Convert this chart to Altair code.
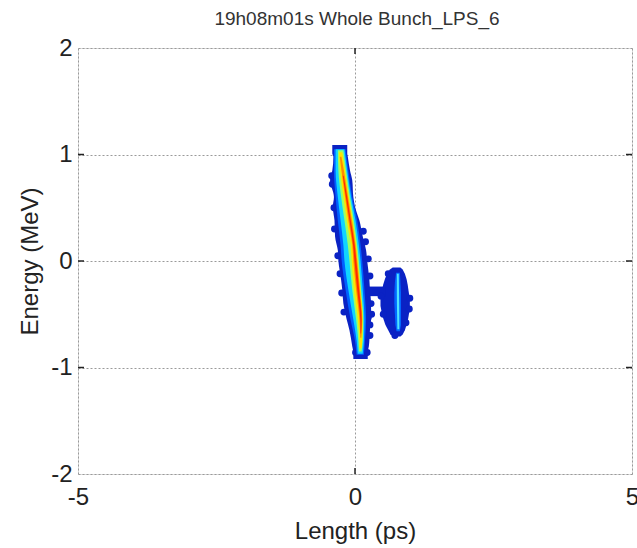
import altair as alt
import pandas as pd

# ---- data (Length in ps, Energy in MeV) ----
# main streak, layered density bands: (energy, left length, right length)
ENV_Y  = [1.09, 1.01, 0.98, 0.85, 0.76, 0.60, 0.51, 0.38, 0.23, 0.10, 0.00, -0.18, -0.27, -0.40, -0.55, -0.65, -0.80, -0.86, -0.92]
ENV_L  = [-0.41, -0.41, -0.39, -0.41, -0.45, -0.38, -0.40, -0.37, -0.36, -0.31, -0.30, -0.25, -0.23, -0.21, -0.15, -0.10, -0.05, -0.03, -0.03]
ENV_R  = [-0.14, -0.14, -0.13, -0.09, -0.05, -0.03, 0.00, 0.08, 0.14, 0.20, 0.22, 0.26, 0.27, 0.29, 0.29, 0.27, 0.25, 0.23, 0.23]

MID_Y  = [1.05, 0.85, 0.60, 0.38, 0.15, 0.00, -0.27, -0.55, -0.75, -0.88]
MID_L  = [-0.38, -0.38, -0.35, -0.31, -0.26, -0.24, -0.17, -0.08, 0.00, 0.03]
MID_R  = [-0.17, -0.12, -0.05, 0.04, 0.10, 0.13, 0.17, 0.20, 0.18, 0.16]

CYA_Y  = [1.05, 0.85, 0.60, 0.38, 0.15, 0.00, -0.27, -0.55, -0.75, -0.87]
CYA_L  = [-0.35, -0.35, -0.31, -0.26, -0.21, -0.19, -0.12, -0.03, 0.03, 0.05]
CYA_R  = [-0.19, -0.14, -0.07, 0.01, 0.07, 0.10, 0.14, 0.17, 0.16, 0.14]

GRN_Y  = [1.04, 0.85, 0.60, 0.38, 0.15, 0.00, -0.27, -0.55, -0.75, -0.85]
GRN_L  = [-0.31, -0.30, -0.25, -0.19, -0.13, -0.10, -0.05, 0.02, 0.06, 0.07]
GRN_R  = [-0.21, -0.16, -0.09, -0.02, 0.04, 0.07, 0.11, 0.15, 0.14, 0.12]

YEL_Y  = [1.02, 0.85, 0.60, 0.38, 0.15, 0.00, -0.27, -0.55, -0.75, -0.82]
YEL_L  = [-0.29, -0.27, -0.21, -0.15, -0.08, -0.06, -0.02, 0.05, 0.08, 0.08]
YEL_R  = [-0.23, -0.18, -0.11, -0.04, 0.02, 0.05, 0.10, 0.14, 0.13, 0.12]

ORA_Y  = [0.98, 0.85, 0.60, 0.38, 0.15, 0.00, -0.27, -0.55, -0.72]
ORA_L  = [-0.275, -0.245, -0.18, -0.12, -0.05, -0.03, 0.02, 0.08, 0.095]
ORA_R  = [-0.245, -0.200, -0.125, -0.055, 0.01, 0.04, 0.09, 0.13, 0.115]

RED_Y  = [0.80, 0.60, 0.38, 0.15, 0.00, -0.27, -0.55, -0.68]
RED_L  = [-0.22, -0.165, -0.10, -0.035, -0.01, 0.04, 0.095, 0.10]
RED_R  = [-0.205, -0.14, -0.075, -0.005, 0.025, 0.075, 0.12, 0.11]

# satellite blob
BLOB_Y = [-0.06, -0.08, -0.12, -0.17, -0.22, -0.29, -0.36, -0.42, -0.48, -0.54, -0.60, -0.65, -0.69, -0.71]
BLOB_L = [0.68, 0.63, 0.58, 0.54, 0.51, 0.48, 0.46, 0.46, 0.48, 0.51, 0.55, 0.60, 0.64, 0.69]
BLOB_R = [0.82, 0.86, 0.90, 0.93, 0.95, 0.97, 0.99, 0.99, 0.98, 0.96, 0.93, 0.90, 0.86, 0.82]

BMID_Y = [-0.11, -0.20, -0.30, -0.40, -0.50, -0.60, -0.66]
BMID_L = [0.74, 0.72, 0.71, 0.71, 0.72, 0.73, 0.75]
BMID_R = [0.81, 0.82, 0.83, 0.83, 0.83, 0.83, 0.81]

BCYA_Y = [-0.12, -0.30, -0.50, -0.64]
BCYA_L = [0.755, 0.755, 0.76, 0.765]
BCYA_R = [0.79, 0.795, 0.80, 0.80]

# bridge between streak and blob
BR_Y = [-0.24, -0.33]
BR_L = [0.20, 0.20]
BR_R = [0.55, 0.55]

# scattered outlier particles on the edges
DOT_X = [-0.42, -0.41, -0.38, -0.37, -0.31, -0.27, -0.24, -0.20, 0.15, 0.19, 0.24, 0.27, 0.29, 0.30, 0.27, 0.27, 0.22, 0.24,
         0.47, 0.98, 0.99, 0.51, 0.60, 0.92, 0.72, 0.01, 0.22]
DOT_Y = [0.80, 0.72, 0.50, 0.30, 0.05, -0.12, -0.30, -0.48, 0.28, 0.18, 0.02, -0.14, -0.40, -0.50, -0.70, -0.60, -0.45, -0.53,
         -0.33, -0.45, -0.35, -0.50, -0.12, -0.58, -0.70, -0.86, -0.86]

TITLE = "19h08m01s Whole Bunch_LPS_6"
X_TITLE = "Length (ps)"
Y_TITLE = "Energy (MeV)"
X_TICKS = [-5, 0, 5]
Y_TICKS = [-2, -1, 0, 1, 2]

FONT = "Liberation Sans"
BLUE = "#0a22c4"

xs = alt.Scale(domain=[-5, 5], nice=False, zero=False)
ys = alt.Scale(domain=[-2, 2], nice=False, zero=False)


def band(yv, lv, rv, color, interp="monotone"):
    df = pd.DataFrame({"E": yv, "L": lv, "R": rv})
    return alt.Chart(df).mark_area(orient="horizontal", color=color, interpolate=interp).encode(
        y=alt.Y("E:Q", scale=ys),
        x=alt.X("L:Q", scale=xs),
        x2="R:Q",
    )


# axes / grid layer
base_df = pd.DataFrame({"x": [0.0], "y": [0.0]})
axes = alt.Chart(base_df).mark_point(opacity=0).encode(
    x=alt.X("x:Q", scale=xs, title=X_TITLE,
            axis=alt.Axis(values=X_TICKS, grid=True, gridDash=[2, 2], gridColor="#9a9a9a",
                          ticks=False, domain=False, labelFontSize=24, labelFont=FONT,
                          labelColor="#222", labelPadding=11, labelFlush=False,
                          labelExpr="'' + datum.value",
                          titleFont=FONT, titleFontSize=24, titleFontWeight="normal",
                          titleColor="#222", titleY=64, titleBaseline="alphabetic")),
    y=alt.Y("y:Q", scale=ys, title=Y_TITLE,
            axis=alt.Axis(values=Y_TICKS, grid=True, gridDash=[2, 2], gridColor="#9a9a9a",
                          ticks=False, domain=False, labelFontSize=24, labelFont=FONT,
                          labelColor="#222", labelPadding=6, labelFlush=False,
                          labelExpr="'' + datum.value",
                          titleFont=FONT, titleFontSize=24, titleFontWeight="normal",
                          titleColor="#222", titleX=-48, titleY=213, titleAngle=270,
                          titleAlign="center", titleBaseline="middle")),
)

title_mark = alt.Chart(pd.DataFrame({"t": [TITLE]})).mark_text(
    font=FONT, fontSize=19, color="#333", align="center", baseline="alphabetic"
).encode(text="t:N", x=alt.value(279), y=alt.value(-23))

layers = [
    axes,
    band(ENV_Y, ENV_L, ENV_R, BLUE),
    band(BLOB_Y, BLOB_L, BLOB_R, BLUE, "linear"),
    band(BR_Y, BR_L, BR_R, BLUE, "linear"),
    alt.Chart(pd.DataFrame({"x": DOT_X, "y": DOT_Y})).mark_circle(size=48, opacity=1, color=BLUE).encode(
        x=alt.X("x:Q", scale=xs), y=alt.Y("y:Q", scale=ys)),
    band(MID_Y, MID_L, MID_R, "#0060ff"),
    band(CYA_Y, CYA_L, CYA_R, "#10d4ff"),
    band(GRN_Y, GRN_L, GRN_R, "#98ff68"),
    band(YEL_Y, YEL_L, YEL_R, "#ffe400"),
    band(ORA_Y, ORA_L, ORA_R, "#ff8c00"),
    band(RED_Y, RED_L, RED_R, "#ff2a00"),
    band(BMID_Y, BMID_L, BMID_R, "#0068ff", "linear"),
    band(BCYA_Y, BCYA_L, BCYA_R, "#50e4ff"),
    title_mark,
]

# inward tick marks (MATLAB style)
xt = pd.DataFrame({"x": [0.0]})
yt = pd.DataFrame({"y": [-1.0, 0.0, 1.0]})
tick_color = "#222"
layers += [
    alt.Chart(xt).mark_rule(color=tick_color, strokeWidth=1.5).encode(
        x=alt.X("x:Q", scale=xs), y=alt.value(0), y2=alt.value(6)),
    alt.Chart(xt).mark_rule(color=tick_color, strokeWidth=1.5).encode(
        x=alt.X("x:Q", scale=xs), y=alt.value(420), y2=alt.value(426)),
    alt.Chart(yt).mark_rule(color=tick_color, strokeWidth=1.5).encode(
        y=alt.Y("y:Q", scale=ys), x=alt.value(0), x2=alt.value(6)),
    alt.Chart(yt).mark_rule(color=tick_color, strokeWidth=1.5).encode(
        y=alt.Y("y:Q", scale=ys), x=alt.value(548), x2=alt.value(554)),
]

chart = alt.layer(*layers).properties(
    width=554,
    height=426,
    autosize=alt.AutoSizeParams(type="none"),
    padding={"left": 78, "top": 48, "right": 5, "bottom": 74},
).configure_view(stroke="#222", strokeWidth=1.6).configure(background="white")

chart.save("out.html", embed_options={"renderer": "svg", "actions": False})
